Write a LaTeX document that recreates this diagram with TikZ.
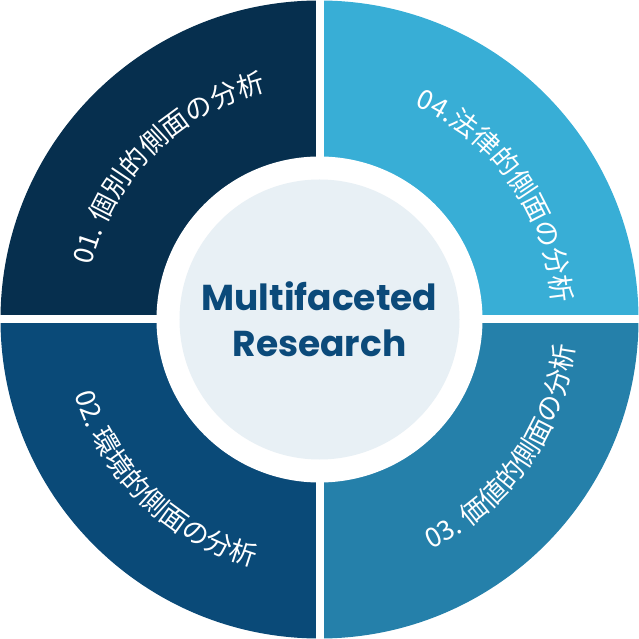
\documentclass[tikz,border=0pt]{standalone}
\usepackage{fontspec}
\setmainfont{Poppins}
\newfontfamily\cjk{Noto Sans CJK JP}
\usetikzlibrary{decorations.text}
\definecolor{qa}{HTML}{062F4E}
\definecolor{qb}{HTML}{38AED6}
\definecolor{qc}{HTML}{2580AA}
\definecolor{qd}{HTML}{0A4A78}
\definecolor{ctr}{HTML}{E8F0F5}
\definecolor{ctxt}{HTML}{0B4A7A}
\tikzset{arctext/.style={decorate,decoration={text along path,text align=center,text color=white,text format delimiters={|}{|}}}}
\begin{document}
\begin{tikzpicture}[x=1pt,y=1pt]
\useasboundingbox (-319.5,-319.5) rectangle (319.5,319.5);
\fill[qa] (0,0) -- (180:319) arc (180:90:319) -- cycle;
\fill[qb] (0,0) -- (90:319) arc (90:0:319) -- cycle;
\fill[qc] (0,0) -- (0:319) arc (0:-90:319) -- cycle;
\fill[qd] (0,0) -- (-90:319) arc (-90:-180:319) -- cycle;
\draw[white,line width=8] (-330,0) -- (330,0);
\draw[white,line width=8] (0,-330) -- (0,330);
\fill[white] (0,0) circle (163);
\node[circle,fill=ctr,minimum size=280,inner sep=0,align=center,text=ctxt,font=\bfseries\fontsize{36}{46}\selectfont] (c) at (0,0) {Multifaceted\\Research};
\path[arctext,decoration={text={|\cjk\fontsize{27}{27}\selectfont|01. 個別的側面の分析}}] (172:234) arc (172:98:234);
\path[arctext,decoration={text={|\cjk\fontsize{27}{27}\selectfont|04.法律的側面の分析}}] (82:234) arc (82:-12:234);
\path[arctext,decoration={text={|\cjk\fontsize{27}{27}\selectfont|03. 価値的側面の分析}}] (-84:256) arc (-84:14:256);
\path[arctext,decoration={text={|\cjk\fontsize{27}{27}\selectfont|02. 環境的側面の分析}}] (190:256) arc (190:262:256);
\end{tikzpicture}
\end{document}
